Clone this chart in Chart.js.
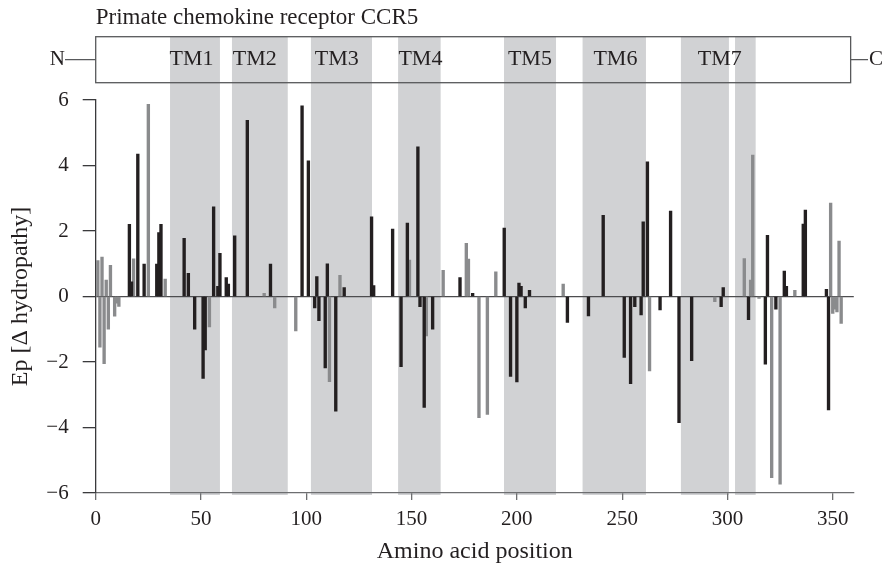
<!DOCTYPE html>
<html>
<head>
<meta charset="utf-8">
<title>Primate chemokine receptor CCR5</title>
<script src="https://cdn.jsdelivr.net/npm/chart.js@4.4.1/dist/chart.umd.min.js"></script>
<style>
  html, body { margin: 0; padding: 0; background: #fff; }
  canvas { display: block; }
</style>
</head>
<body>
<canvas id="ccr5Chart" width="885" height="567"></canvas>
<script>
// Ep values per amino acid position
const blackPositions = [16, 17, 20, 23, 29, 30, 31, 42, 44, 47, 51, 52, 56, 58, 59, 62, 63, 66, 72, 83,
    98, 101, 104, 105, 106, 109, 110, 114, 118, 131, 132, 141, 145, 148, 153, 154, 156, 160, 173, 179,
    194, 197, 200, 201, 202, 204, 206, 224, 234, 241, 251, 254, 256, 259, 260, 262, 268, 273, 277, 283,
    297, 298, 310, 318, 319, 323, 327, 328, 336, 337, 347, 348];
const blackValues = [2.2, 0.45, 4.35, 0.99, 0.99, 1.95, 2.2, 1.78, 0.71, -1.0, -2.5, -1.63, 2.74, 0.31, 1.32, 0.58, 0.38, 1.85, 5.38, 0.99,
    5.82, 4.14, -0.35, 0.61, -0.74, -2.18, 1.0, -3.5, 0.27, 2.43, 0.33, 2.06, -2.14, 2.24, 4.57, -0.31, -3.39, -1.0, 0.58, 0.1,
    2.09, -2.44, -2.61, 0.41, 0.31, -0.35, 0.19, -0.79, -0.59, 2.48, -1.86, -2.66, -0.31, -0.56, 2.28, 4.11, -0.41, 2.61, -3.85, -1.96,
    -0.31, 0.27, -0.71, -2.07, 1.87, -0.39, 0.78, 0.31, 2.21, 2.64, 0.22, -3.46];

const grayPositions = [1, 2, 3, 4, 5, 6, 7, 9, 10, 11, 18, 25, 33, 54, 80, 85, 95, 111, 116, 149,
    157, 165, 176, 177, 182, 186, 190, 222, 263, 294, 308, 311, 312, 315, 321, 325, 332, 349, 350, 351,
    352, 353, 354];
const grayValues = [1.1, -1.55, 1.2, -2.05, 0.5, -1.0, 0.95, -0.6, -0.2, -0.3, 1.15, 5.87, 0.53, -0.93, 0.1, -0.35, -1.05, -2.6, 0.65, 1.11,
    -1.2, 0.8, 1.62, 1.14, -3.7, -3.6, 0.75, 0.38, -2.27, -0.16, 1.16, 0.5, 4.32, -0.06, -5.53, -5.73, 0.19, 2.85, -0.52, -0.39,
    -0.47, 1.69, -0.82];

// transmembrane segments (TM7 is drawn as two bands)
const tmBandStarts = [35.3, 64.7, 102.2, 143.6, 193.9, 231.2, 277.9, 303.6];
const tmBandEnds = [59.0, 91.2, 131.2, 163.8, 218.6, 261.3, 300.7, 313.4];
const tmNames = ["TM1", "TM2", "TM3", "TM4", "TM5", "TM6", "TM7"];
const tmNameCentres = [45.5, 75.5, 114.5, 154.2, 206.2, 246.8, 296.4];
const receptorEnd = 358.5;

const xTickValues = [0, 50, 100, 150, 200, 250, 300, 350];
const yTickValues = [-6, -4, -2, 0, 2, 4, 6];

const FONT = "'Liberation Serif', 'Times New Roman', serif";
const INK = "#231f20";
const BOX_TOP = 36.7;
const BOX_BOTTOM = 82.7;

function toPoints(xs, ys) {
    return xs.map((p, i) => ({ x: p, y: ys[i] }));
}

// shaded TM bands, receptor box and labels
const figureDecor = {
    id: "figureDecor",
    beforeDraw(chart) {
        const { ctx, chartArea, scales: { x } } = chart;
        ctx.save();
        ctx.fillStyle = "#d1d2d4";
        for (let i = 0; i < tmBandStarts.length; i++) {
            const x1 = x.getPixelForValue(tmBandStarts[i]);
            const x2 = x.getPixelForValue(tmBandEnds[i]);
            ctx.fillRect(x1, BOX_TOP, x2 - x1, chartArea.bottom + 2 - BOX_TOP);
        }
        ctx.restore();
    },
    afterDraw(chart) {
        const { ctx, scales: { x } } = chart;
        const left = x.getPixelForValue(0);
        const right = x.getPixelForValue(receptorEnd);
        const midY = (BOX_TOP + BOX_BOTTOM) / 2;
        ctx.save();

        // title
        ctx.fillStyle = INK;
        ctx.font = "23px " + FONT;
        ctx.textAlign = "left";
        ctx.textBaseline = "alphabetic";
        ctx.fillText("Primate chemokine receptor CCR5", left, 24);

        // receptor box
        ctx.strokeStyle = "#58595b";
        ctx.lineWidth = 1.3;
        ctx.strokeRect(left, BOX_TOP, right - left, BOX_BOTTOM - BOX_TOP);
        ctx.beginPath();
        ctx.moveTo(65, midY);
        ctx.lineTo(left, midY);
        ctx.moveTo(right, midY);
        ctx.lineTo(868, midY);
        ctx.stroke();

        ctx.font = "21px " + FONT;
        ctx.textBaseline = "middle";
        ctx.textAlign = "right";
        ctx.fillText("N", 65, midY);
        ctx.textAlign = "left";
        ctx.fillText("C", 869, midY);

        // TM labels
        ctx.textAlign = "center";
        ctx.font = "22px " + FONT;
        tmNames.forEach((name, i) => {
            ctx.fillText(name, x.getPixelForValue(tmNameCentres[i]), midY);
        });
        ctx.restore();
    }
};

const ctx = document.getElementById("ccr5Chart").getContext("2d");
new Chart(ctx, {
    type: "bar",
    data: {
        datasets: [{
            label: "black",
            data: toPoints(blackPositions, blackValues),
            backgroundColor: INK,
            borderWidth: 0,
            barThickness: 2.7,
            grouped: false
        }, {
            label: "gray",
            data: toPoints(grayPositions, grayValues),
            backgroundColor: "#8a8b8d",
            borderWidth: 0,
            barThickness: 2.7,
            grouped: false
        }]
    },
    options: {
        responsive: false,
        animation: false,
        layout: { padding: { left: 0, top: 100, right: 31.2, bottom: 0 } },
        plugins: {
            legend: { display: false },
            tooltip: { enabled: false }
        },
        scales: {
            x: {
                type: "linear",
                min: 0,
                max: 360,
                offset: false,
                afterBuildTicks: s => { s.ticks = xTickValues.map(v => ({ value: v })); },
                afterFit: s => { s.height = 74; },
                ticks: {
                    color: INK,
                    font: { family: FONT, size: 21 },
                    padding: 7,
                    maxRotation: 0,
                    autoSkip: false
                },
                grid: { drawOnChartArea: false, offset: false, tickLength: 7, tickColor: "#6d6e70", lineWidth: 1.3 },
                border: { color: "#6d6e70", width: 1.3 },
                title: {
                    display: true,
                    text: "Amino acid position",
                    color: INK,
                    font: { family: FONT, size: 24 },
                    padding: { top: 0, bottom: 1 }
                }
            },
            y: {
                min: -6,
                max: 6,
                afterBuildTicks: s => { s.ticks = yTickValues.map(v => ({ value: v })); },
                afterFit: s => { s.width = 95.7; },
                ticks: {
                    color: INK,
                    font: { family: FONT, size: 21 },
                    padding: 14,
                    callback: v => (v < 0 ? "\u2212" + Math.abs(v) : String(v))
                },
                grid: {
                    color: c => (c.tick && c.tick.value === 0 ? "#4d4d4f" : "rgba(0,0,0,0)"),
                    tickColor: "#3a3a3c",
                    tickLength: 13,
                    lineWidth: 1.3
                },
                border: { color: "#3a3a3c", width: 1.3 },
                title: {
                    display: true,
                    text: "Ep [\u0394 hydropathy]",
                    color: INK,
                    font: { family: FONT, size: 24 },
                    padding: { top: 6, bottom: 0 }
                }
            }
        }
    },
    plugins: [figureDecor]
});
</script>
</body>
</html>
